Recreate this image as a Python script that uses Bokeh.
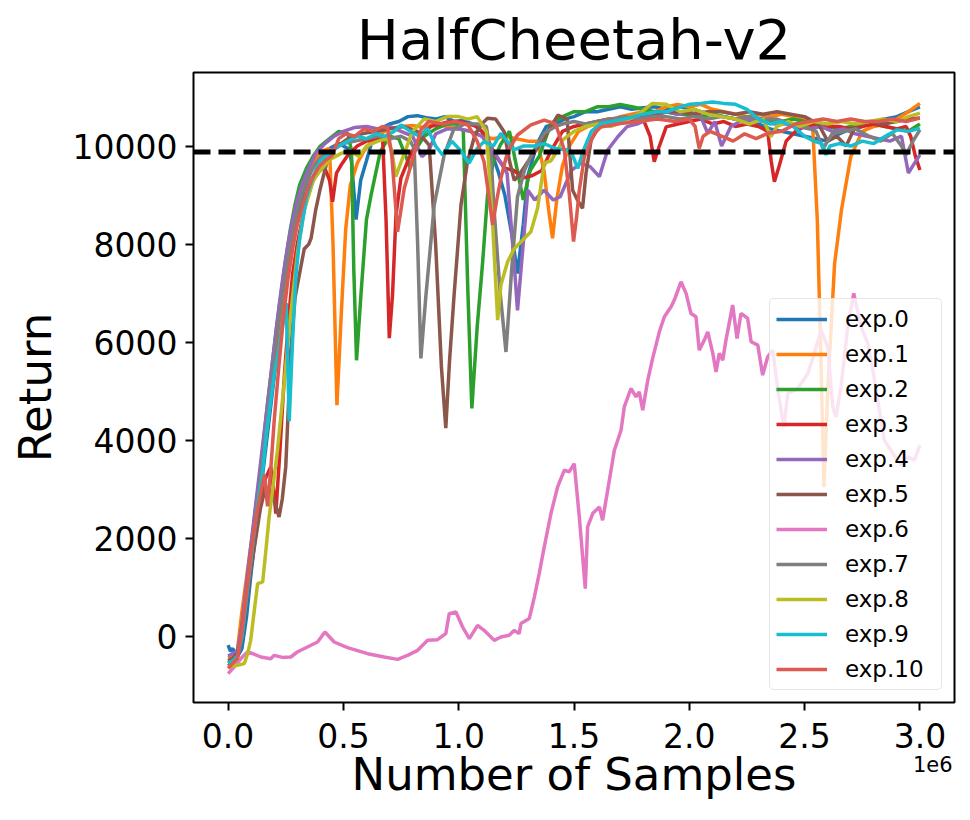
from bokeh.plotting import figure
from bokeh.models import (Span, FixedTicker, PrintfTickFormatter, Legend, LinearAxis,
                          CustomJSTickFormatter)
from bokeh.embed import file_html
from bokeh.resources import INLINE

# ---------------- data (x in millions of samples) ----------------
labels = ["exp.0", "exp.1", "exp.2", "exp.3", "exp.4", "exp.5",
          "exp.6", "exp.7", "exp.8", "exp.9", "exp.10"]
colors = ["#1f77b4", "#ff7f0e", "#2ca02c", "#d62728", "#9467bd", "#8c564b",
          "#e377c2", "#7f7f7f", "#bcbd22", "#17becf", "#dc5a50"]
threshold = 9880
x_ticks = [0.0, 0.5, 1.0, 1.5, 2.0, 2.5, 3.0]
y_ticks = [0, 2000, 4000, 6000, 8000, 10000]
offset_text = "1e6"
offset_pos = [3.056]

exp0_x = [0, 0.01, 0.02, 0.04, 0.06, 0.08, 0.10, 0.12, 0.14, 0.16, 0.18, 0.20, 0.22, 0.24, 0.26, 0.28, 0.30, 0.33, 0.36, 0.40, 0.44, 0.48, 0.52, 0.535, 0.555, 0.575, 0.60, 0.63, 0.66, 0.70, 0.74, 0.78, 0.82, 0.86, 0.90, 0.94, 0.98, 1.02, 1.06, 1.10, 1.14, 1.17, 1.20, 1.23, 1.255, 1.28, 1.30, 1.34, 1.38, 1.42, 1.46, 1.50, 1.55, 1.60, 1.65, 1.70, 1.75, 1.80, 1.85, 1.90, 1.95, 2.00, 2.05, 2.10, 2.15, 2.20, 2.25, 2.30, 2.35, 2.40, 2.45, 2.50, 2.55, 2.60, 2.65, 2.70, 2.75, 2.80, 2.85, 2.90, 2.95, 3.00]
exp0_y = [-180, -300, -250, -420, -250, 400, 1300, 2100, 2900, 3700, 4500, 5300, 6100, 6800, 7500, 8100, 8600, 9100, 9500, 9800, 9950, 10050, 9950, 9700, 8500, 9300, 9700, 10200, 10350, 10450, 10500, 10600, 10620, 10580, 10550, 10600, 10500, 10520, 10450, 10300, 9900, 9500, 9000, 8200, 7400, 8400, 9400, 10050, 10400, 10450, 10550, 10600, 10700, 10700, 10750, 10800, 10750, 10780, 10800, 10750, 10800, 10780, 10700, 10650, 10600, 10550, 10500, 10450, 10350, 10300, 10250, 10200, 10150, 10100, 10250, 10350, 10400, 10500, 10550, 10600, 10700, 10800]

exp1_x = [0, 0.02, 0.04, 0.06, 0.08, 0.10, 0.12, 0.14, 0.16, 0.18, 0.20, 0.22, 0.24, 0.26, 0.28, 0.30, 0.32, 0.35, 0.38, 0.41, 0.44, 0.455, 0.472, 0.49, 0.51, 0.53, 0.56, 0.59, 0.62, 0.66, 0.70, 0.75, 0.80, 0.85, 0.90, 0.95, 1.00, 1.05, 1.10, 1.15, 1.20, 1.25, 1.30, 1.34, 1.37, 1.39, 1.407, 1.425, 1.45, 1.48, 1.52, 1.56, 1.60, 1.65, 1.70, 1.75, 1.80, 1.85, 1.90, 1.95, 2.00, 2.05, 2.10, 2.15, 2.20, 2.25, 2.30, 2.35, 2.40, 2.45, 2.50, 2.535, 2.555, 2.57, 2.584, 2.60, 2.63, 2.66, 2.70, 2.75, 2.80, 2.85, 2.90, 2.95, 3.00]
exp1_y = [-450, -400, -300, 500, 1200, 1900, 2500, 3200, 3900, 4700, 5500, 6300, 7000, 7700, 8300, 8800, 9150, 9500, 9750, 9900, 9950, 8000, 4715, 6500, 8300, 9200, 9650, 9900, 10100, 10250, 10350, 10400, 10420, 10380, 10450, 10400, 10350, 10300, 10200, 10150, 10200, 10150, 10100, 10100, 9500, 8700, 8117, 8900, 9600, 10000, 10300, 10400, 10450, 10500, 10600, 10650, 10700, 10700, 10800, 10850, 10800, 10850, 10750, 10700, 10650, 10600, 10650, 10600, 10650, 10600, 10550, 10400, 8500, 5800, 3040, 5000, 7600, 8700, 9780, 10300, 10400, 10450, 10550, 10700, 10870]

exp2_x = [0, 0.02, 0.04, 0.06, 0.08, 0.10, 0.12, 0.135, 0.15, 0.17, 0.19, 0.21, 0.23, 0.25, 0.27, 0.29, 0.31, 0.34, 0.37, 0.40, 0.44, 0.48, 0.52, 0.535, 0.545, 0.557, 0.576, 0.60, 0.62, 0.66, 0.70, 0.74, 0.77, 0.79, 0.81, 0.85, 0.90, 0.95, 0.99, 1.02, 1.04, 1.057, 1.08, 1.104, 1.125, 1.15, 1.18, 1.22, 1.25, 1.28, 1.31, 1.35, 1.40, 1.45, 1.50, 1.55, 1.60, 1.65, 1.70, 1.75, 1.80, 1.85, 1.90, 1.95, 2.00, 2.05, 2.10, 2.15, 2.20, 2.25, 2.30, 2.35, 2.40, 2.45, 2.50, 2.55, 2.60, 2.65, 2.70, 2.75, 2.80, 2.85, 2.90, 2.95, 3.00]
exp2_y = [-550, -480, -350, 100, 900, 1800, 2640, 3116, 3800, 4700, 5500, 6300, 7000, 7700, 8300, 8800, 9200, 9550, 9800, 10000, 10150, 10300, 10250, 9900, 7500, 5630, 6960, 8500, 9000, 9885, 10200, 10150, 9800, 9550, 9900, 10200, 10350, 10450, 10450, 10300, 7000, 4650, 6300, 7640, 9000, 9680, 10020, 10300, 9600, 8900, 9500, 9800, 10460, 10600, 10700, 10700, 10800, 10800, 10850, 10800, 10750, 10700, 10700, 10650, 10650, 10600, 10650, 10600, 10550, 10600, 10550, 10500, 10500, 10550, 10500, 10450, 10400, 10350, 10400, 10500, 10450, 10400, 10350, 10300, 10450]

exp3_x = [0, 0.02, 0.04, 0.06, 0.08, 0.10, 0.12, 0.14, 0.16, 0.185, 0.197, 0.207, 0.225, 0.245, 0.265, 0.28, 0.30, 0.33, 0.36, 0.39, 0.42, 0.44, 0.453, 0.47, 0.49, 0.52, 0.56, 0.60, 0.64, 0.67, 0.685, 0.699, 0.713, 0.728, 0.749, 0.79, 0.836, 0.88, 0.92, 0.96, 1.00, 1.04, 1.08, 1.12, 1.16, 1.20, 1.24, 1.28, 1.32, 1.36, 1.40, 1.45, 1.50, 1.55, 1.60, 1.65, 1.70, 1.75, 1.80, 1.83, 1.848, 1.87, 1.90, 1.95, 2.00, 2.05, 2.10, 2.15, 2.20, 2.25, 2.30, 2.34, 2.355, 2.369, 2.39, 2.42, 2.46, 2.50, 2.55, 2.60, 2.65, 2.70, 2.75, 2.80, 2.85, 2.90, 2.94, 2.96, 2.98, 3.00]
exp3_y = [-600, -550, -400, 200, 1000, 1800, 2400, 2900, 3200, 3455, 3000, 2504, 3800, 5400, 6600, 7400, 8000, 8700, 9200, 9500, 9545, 9300, 8865, 9450, 9613, 9817, 10000, 10100, 10150, 10160, 8500, 6080, 6960, 8590, 9340, 9817, 10225, 10400, 10450, 10500, 10500, 10450, 10400, 10200, 9800, 9550, 9500, 9350, 9400, 9500, 9900, 10300, 10400, 10450, 10500, 10550, 10550, 10500, 10550, 10200, 9680, 10000, 10390, 10450, 10500, 10550, 10450, 10500, 10400, 10450, 10400, 10300, 9700, 9270, 9600, 10100, 10300, 10400, 10450, 10400, 10400, 10350, 10400, 10450, 10400, 10350, 10400, 10200, 9800, 9510]

exp4_x = [0, 0.02, 0.04, 0.06, 0.08, 0.10, 0.12, 0.14, 0.16, 0.18, 0.20, 0.22, 0.24, 0.26, 0.28, 0.30, 0.32, 0.35, 0.38, 0.42, 0.46, 0.50, 0.55, 0.60, 0.65, 0.70, 0.75, 0.80, 0.84, 0.87, 0.90, 0.95, 1.00, 1.05, 1.10, 1.15, 1.18, 1.21, 1.24, 1.255, 1.27, 1.30, 1.33, 1.37, 1.41, 1.44, 1.49, 1.53, 1.57, 1.61, 1.646, 1.69, 1.73, 1.78, 1.83, 1.90, 1.95, 2.00, 2.05, 2.08, 2.11, 2.14, 2.18, 2.22, 2.27, 2.32, 2.37, 2.42, 2.47, 2.52, 2.57, 2.62, 2.67, 2.72, 2.77, 2.82, 2.87, 2.92, 2.95, 2.97, 3.00]
exp4_y = [-400, -350, -300, 200, 1100, 1900, 2700, 3500, 4300, 5100, 5900, 6700, 7400, 8000, 8500, 8900, 9200, 9550, 9850, 10050, 10200, 10300, 10380, 10400, 10350, 10400, 10300, 10200, 9785, 9900, 10250, 10350, 10350, 10300, 10200, 9900, 9680, 9440, 7640, 6650, 7470, 9100, 8900, 9100, 8900, 8966, 9510, 9650, 9580, 9375, 9920, 10190, 10395, 10460, 10566, 10700, 10650, 10700, 10600, 10260, 10500, 10000, 10400, 10500, 10550, 10500, 10450, 10450, 10400, 10350, 10400, 10300, 10350, 10250, 10200, 10150, 10100, 10200, 9450, 9600, 9820]

exp5_x = [0, 0.02, 0.04, 0.06, 0.08, 0.10, 0.12, 0.14, 0.16, 0.185, 0.205, 0.221, 0.235, 0.25, 0.272, 0.29, 0.31, 0.33, 0.35, 0.36, 0.38, 0.40, 0.43, 0.46, 0.52, 0.58, 0.64, 0.70, 0.76, 0.82, 0.872, 0.90, 0.925, 0.944, 0.96, 0.98, 1.01, 1.038, 1.07, 1.10, 1.125, 1.16, 1.197, 1.22, 1.241, 1.26, 1.30, 1.357, 1.40, 1.43, 1.47, 1.494, 1.515, 1.537, 1.552, 1.574, 1.617, 1.67, 1.72, 1.78, 1.84, 1.90, 1.96, 2.02, 2.08, 2.14, 2.20, 2.26, 2.32, 2.38, 2.44, 2.50, 2.56, 2.60, 2.64, 2.68, 2.72, 2.78, 2.84, 2.90, 2.95, 3.00]
exp5_y = [-500, -450, -350, 0, 700, 1400, 2000, 2600, 3000, 2980, 2700, 2435, 2800, 3455, 5837, 6900, 7400, 7900, 8000, 8120, 8700, 9140, 9700, 9950, 10150, 10250, 10300, 10350, 10400, 10300, 10020, 8000, 5500, 4245, 5600, 6960, 8800, 9680, 10225, 10450, 10566, 10550, 10293, 9700, 9300, 9400, 9680, 10060, 10400, 10630, 10550, 9100, 8900, 8730, 9440, 10120, 10460, 10500, 10550, 10600, 10650, 10700, 10700, 10650, 10700, 10700, 10650, 10700, 10650, 10700, 10650, 10600, 10450, 10100, 10200, 10000, 10400, 10500, 10450, 10500, 10550, 10570]

exp6_x = [0, 0.026, 0.062, 0.084, 0.105, 0.142, 0.185, 0.20, 0.235, 0.272, 0.30, 0.344, 0.388, 0.42, 0.46, 0.518, 0.605, 0.677, 0.735, 0.778, 0.822, 0.865, 0.908, 0.944, 0.959, 0.988, 1.017, 1.046, 1.082, 1.11, 1.154, 1.183, 1.219, 1.241, 1.262, 1.27, 1.306, 1.328, 1.349, 1.371, 1.40, 1.429, 1.458, 1.479, 1.501, 1.523, 1.549, 1.559, 1.581, 1.61, 1.624, 1.646, 1.675, 1.704, 1.718, 1.747, 1.769, 1.783, 1.798, 1.82, 1.841, 1.87, 1.892, 1.921, 1.935, 1.964, 1.986, 2.007, 2.029, 2.043, 2.065, 2.08, 2.102, 2.116, 2.13, 2.145, 2.159, 2.188, 2.207, 2.224, 2.253, 2.268, 2.297, 2.318, 2.34, 2.362, 2.384, 2.41, 2.427, 2.47, 2.514, 2.542, 2.571, 2.60, 2.622, 2.636, 2.658, 2.687, 2.713, 2.745, 2.774, 2.796, 2.824, 2.846, 2.883, 2.918, 2.947, 2.976, 3.0]
exp6_y = [-762, -626, -420, -320, -350, -422, -456, -388, -430, -422, -320, -218, -116, 88, -116, -231, -354, -422, -470, -388, -286, -82, -68, 55, 463, 496, 190, -47, 224, 122, -82, -14, 20, 122, 55, 259, 361, 800, 1280, 1823, 2504, 3047, 3388, 3353, 3524, 2435, 973, 2231, 2504, 2640, 2368, 2980, 3796, 4204, 4680, 5055, 4884, 4986, 4613, 5225, 5668, 6211, 6517, 6721, 6858, 7231, 6994, 6586, 6517, 5837, 6041, 6211, 5770, 5394, 5770, 5633, 6041, 6756, 6076, 6586, 6484, 6007, 5939, 5327, 5701, 5837, 5021, 4272, 4953, 5055, 5361, 5770, 6245, 5905, 4680, 4476, 5089, 6313, 6994, 6313, 5974, 5429, 4613, 4000, 3729, 3490, 3660, 3592, 3898]

exp7_x = [0, 0.02, 0.04, 0.06, 0.08, 0.10, 0.12, 0.14, 0.16, 0.18, 0.20, 0.22, 0.24, 0.26, 0.28, 0.30, 0.32, 0.35, 0.38, 0.42, 0.46, 0.50, 0.55, 0.60, 0.65, 0.70, 0.75, 0.79, 0.807, 0.822, 0.836, 0.858, 0.894, 0.937, 0.98, 1.03, 1.08, 1.12, 1.14, 1.154, 1.18, 1.205, 1.23, 1.255, 1.285, 1.313, 1.371, 1.42, 1.458, 1.50, 1.55, 1.60, 1.66, 1.72, 1.78, 1.84, 1.90, 1.96, 2.02, 2.08, 2.14, 2.20, 2.26, 2.32, 2.38, 2.44, 2.50, 2.55, 2.58, 2.62, 2.67, 2.72, 2.78, 2.83, 2.88, 2.92, 2.94, 2.97, 3.00]
exp7_y = [-600, -550, -450, 0, 800, 1600, 2400, 3200, 4000, 4800, 5600, 6400, 7100, 7700, 8200, 8700, 9000, 9400, 9650, 9850, 9950, 10050, 10100, 10150, 10200, 10150, 10200, 10100, 9950, 8000, 5670, 6960, 8800, 9817, 10360, 10450, 10450, 10400, 9800, 8660, 7000, 5800, 7500, 8966, 9500, 9800, 10260, 10400, 10460, 10500, 10450, 10500, 10550, 10600, 10550, 10600, 10600, 10550, 10600, 10550, 10600, 10550, 10600, 10550, 10550, 10450, 10400, 10300, 9950, 10250, 10300, 10350, 10200, 10100, 10260, 10000, 9820, 10100, 10330]

exp8_x = [0, 0.03, 0.05, 0.07, 0.085, 0.098, 0.113, 0.128, 0.15, 0.164, 0.178, 0.196, 0.214, 0.243, 0.27, 0.30, 0.33, 0.37, 0.40, 0.44, 0.49, 0.53, 0.568, 0.60, 0.65, 0.69, 0.71, 0.727, 0.76, 0.80, 0.85, 0.90, 0.95, 1.00, 1.04, 1.08, 1.12, 1.145, 1.169, 1.183, 1.212, 1.24, 1.27, 1.313, 1.342, 1.371, 1.40, 1.43, 1.45, 1.50, 1.55, 1.60, 1.66, 1.72, 1.78, 1.84, 1.90, 1.96, 2.02, 2.08, 2.14, 2.20, 2.26, 2.32, 2.354, 2.38, 2.43, 2.48, 2.54, 2.60, 2.66, 2.72, 2.78, 2.84, 2.90, 2.95, 3.00]
exp8_y = [-620, -600, -580, -557, -350, -82, 500, 1075, 1110, 1755, 2435, 3100, 3796, 5157, 6500, 7800, 8700, 9300, 9500, 9720, 9850, 9900, 9785, 10000, 10100, 10150, 9900, 9375, 9800, 10300, 10550, 10500, 10600, 10600, 10550, 10600, 10300, 8600, 6450, 7164, 7640, 7900, 8048, 8252, 8730, 9650, 9700, 9920, 10120, 10300, 10400, 10450, 10400, 10500, 10650, 10870, 10850, 10700, 10750, 10650, 10600, 10550, 10450, 10550, 10190, 10400, 10500, 10400, 10500, 10450, 10500, 10450, 10500, 10550, 10500, 10600, 10670]

exp9_x = [0, 0.02, 0.04, 0.06, 0.08, 0.10, 0.12, 0.135, 0.149, 0.165, 0.185, 0.205, 0.221, 0.238, 0.252, 0.265, 0.279, 0.294, 0.31, 0.34, 0.37, 0.40, 0.44, 0.48, 0.52, 0.56, 0.60, 0.64, 0.68, 0.72, 0.75, 0.79, 0.83, 0.865, 0.90, 0.93, 0.97, 1.01, 1.045, 1.08, 1.11, 1.15, 1.183, 1.21, 1.24, 1.28, 1.328, 1.37, 1.42, 1.472, 1.495, 1.516, 1.54, 1.575, 1.617, 1.67, 1.733, 1.80, 1.86, 1.906, 1.96, 2.00, 2.05, 2.10, 2.15, 2.20, 2.25, 2.30, 2.35, 2.40, 2.45, 2.50, 2.54, 2.575, 2.593, 2.61, 2.65, 2.70, 2.75, 2.80, 2.85, 2.90, 2.95, 3.00]
exp9_y = [-550, -500, -400, 0, 800, 1600, 2400, 2900, 3320, 4100, 4817, 5500, 5837, 6400, 6800, 4390, 5980, 7355, 8100, 8950, 9400, 9700, 9850, 10000, 10100, 10200, 10150, 10250, 10200, 10300, 10430, 10300, 10200, 10360, 10000, 9817, 10100, 9900, 9650, 9950, 10090, 10000, 10260, 10100, 9920, 10000, 10000, 10050, 9950, 9920, 9800, 9545, 9900, 10300, 10460, 10500, 10566, 10650, 10700, 10700, 10800, 10850, 10870, 10900, 10870, 10850, 10750, 10550, 10450, 10500, 10400, 10200, 10100, 10050, 9820, 10000, 10050, 10000, 10100, 10050, 10200, 10330, 10300, 10360]

exp10_x = [0, 0.02, 0.04, 0.06, 0.08, 0.10, 0.12, 0.14, 0.158, 0.171, 0.185, 0.20, 0.22, 0.24, 0.26, 0.28, 0.30, 0.33, 0.36, 0.39, 0.42, 0.45, 0.48, 0.51, 0.55, 0.59, 0.63, 0.67, 0.692, 0.71, 0.735, 0.764, 0.793, 0.836, 0.87, 0.93, 0.985, 1.04, 1.08, 1.11, 1.13, 1.147, 1.165, 1.183, 1.212, 1.255, 1.313, 1.371, 1.42, 1.458, 1.48, 1.498, 1.51, 1.523, 1.545, 1.588, 1.617, 1.70, 1.78, 1.86, 1.94, 2.00, 2.025, 2.043, 2.06, 2.09, 2.14, 2.19, 2.24, 2.29, 2.34, 2.40, 2.46, 2.52, 2.58, 2.64, 2.70, 2.76, 2.82, 2.88, 2.94, 3.00]
exp10_y = [-650, -550, -450, 100, 900, 1700, 2400, 2900, 3300, 2650, 3400, 4400, 5500, 6500, 7300, 7900, 8400, 8900, 9300, 9550, 9700, 9800, 10150, 10250, 10200, 10350, 10300, 10400, 10360, 9800, 8250, 9137, 9613, 10330, 10500, 10450, 10500, 10430, 10100, 9680, 9000, 8390, 8900, 9340, 9885, 10225, 10430, 10530, 10450, 9920, 9000, 8050, 8500, 9100, 9785, 10260, 10390, 10460, 10500, 10550, 10500, 10550, 10400, 9950, 10200, 10300, 10200, 10100, 10250, 10150, 10260, 10300, 10450, 10500, 10550, 10500, 10550, 10500, 10500, 10550, 10500, 10570]

series_x = [exp0_x, exp1_x, exp2_x, exp3_x, exp4_x, exp5_x, exp6_x, exp7_x, exp8_x, exp9_x, exp10_x]
series_y = [exp0_y, exp1_y, exp2_y, exp3_y, exp4_y, exp5_y, exp6_y, exp7_y, exp8_y, exp9_y, exp10_y]

FONT = "DejaVu Sans"

p = figure(width=962, height=818, output_backend="svg", toolbar_location=None,
           x_range=(-0.15, 3.15), y_range=(-1350, 11500),
           min_border_left=193, min_border_right=8, min_border_top=72, min_border_bottom=116,
           title="HalfCheetah-v2")
p.background_fill_color = "white"
p.border_fill_color = "white"
p.grid.grid_line_color = None
p.outline_line_color = "black"
p.outline_line_width = 2
p.outline_line_alpha = 1

p.title.text_font = FONT
p.title.text_font_size = "56px"
p.title.text_font_style = "normal"
p.title.align = "center"
p.title.standoff = 2
p.title.text_color = "black"

for ax in (p.xaxis[0], p.yaxis[0]):
    ax.axis_line_color = None
    ax.major_tick_out = 8
    ax.major_tick_in = 0
    ax.minor_tick_line_color = None
    ax.major_tick_line_width = 2
    ax.major_tick_line_color = "black"
    ax.major_label_text_font = FONT
    ax.major_label_text_font_size = "33px"
    ax.major_label_text_color = "black"
    ax.axis_label_text_font = FONT
    ax.axis_label_text_font_size = "45px"
    ax.axis_label_text_font_style = "normal"
    ax.axis_label_text_color = "black"

p.xaxis[0].ticker = FixedTicker(ticks=x_ticks)
p.xaxis[0].formatter = PrintfTickFormatter(format="%.1f")
p.xaxis[0].major_label_standoff = 12
p.yaxis[0].ticker = FixedTicker(ticks=y_ticks)
p.yaxis[0].formatter = PrintfTickFormatter(format="%d")
p.yaxis[0].major_label_standoff = 8
p.yaxis[0].axis_label = "Return"
p.yaxis[0].axis_label_standoff = 8

# second bottom axis: carries the offset text "1e6" and the axis title
ax2 = LinearAxis(ticker=FixedTicker(ticks=offset_pos),
                 formatter=CustomJSTickFormatter(code="return '%s';" % offset_text))
ax2.axis_line_color = None
ax2.major_tick_line_color = None
ax2.minor_tick_line_color = None
ax2.major_tick_out = 0
ax2.major_tick_in = 0
ax2.major_label_standoff = 5
ax2.major_label_text_font = FONT
ax2.major_label_text_font_size = "21px"
ax2.major_label_text_color = "black"
ax2.axis_label = "Number of Samples"
ax2.axis_label_text_font = FONT
ax2.axis_label_text_font_size = "45px"
ax2.axis_label_text_font_style = "normal"
ax2.axis_label_text_color = "black"
ax2.axis_label_standoff = -27
p.add_layout(ax2, "below")

items = []
for i in range(len(labels)):
    r = p.line(series_x[i], series_y[i], line_color=colors[i], line_width=3.5)
    items.append((labels[i], [r]))

p.add_layout(Span(location=threshold, dimension="width", line_color="black",
                  line_width=5, line_dash="17 8"))

legend = Legend(items=items, location="bottom_right")
legend.label_text_font = FONT
legend.label_text_font_size = "23px"
legend.label_text_color = "black"
legend.glyph_width = 51
legend.glyph_height = 28
legend.label_height = 28
legend.label_width = 90
legend.spacing = 7
legend.label_standoff = 18
legend.padding = 6
legend.margin = 12
legend.border_line_color = "#cccccc"
legend.border_line_width = 1.5
legend.border_radius = 5
legend.background_fill_alpha = 0.8
p.add_layout(legend)

open("out.html", "w").write(file_html(p, INLINE))
